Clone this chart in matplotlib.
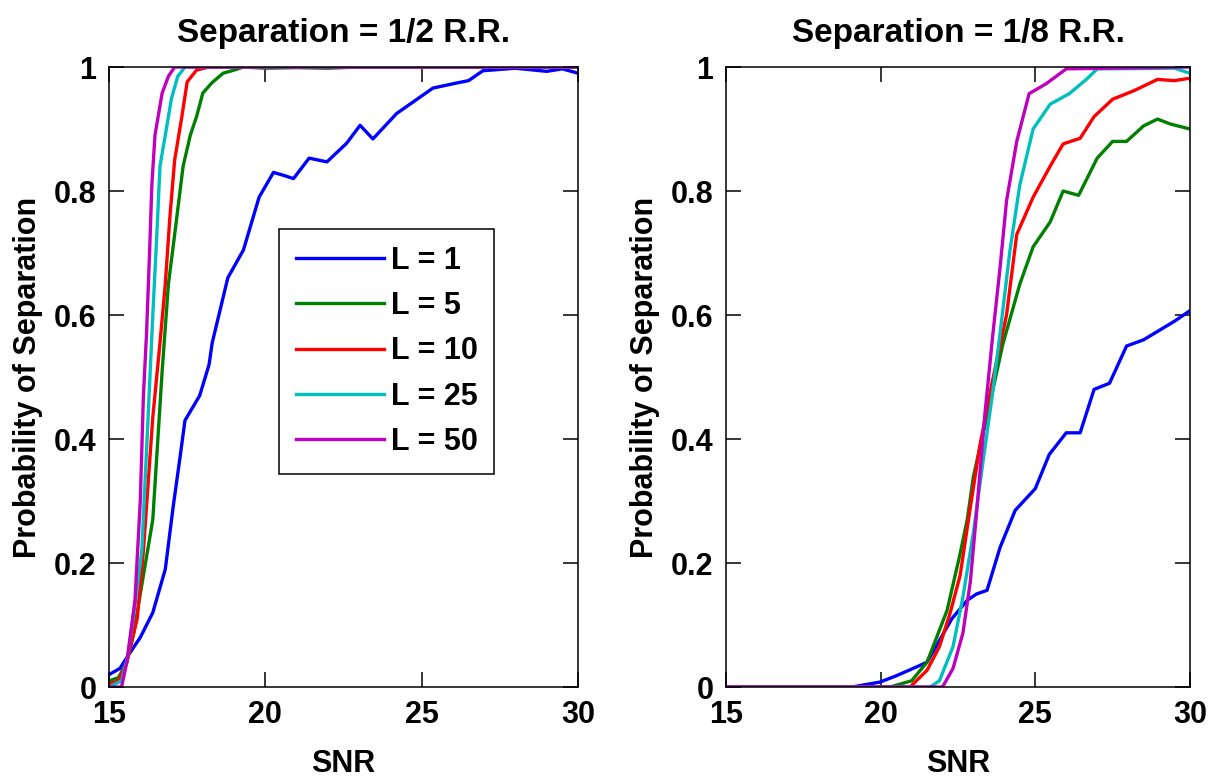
import matplotlib
matplotlib.use("Agg")
import matplotlib.pyplot as plt

# ---- data ----
labels = ["L = 1", "L = 5", "L = 10", "L = 25", "L = 50"]
colors = ["#0000ff", "#008000", "#ff0000", "#00bfbf", "#bf00bf"]
titles = ["Separation = 1/2 R.R.", "Separation = 1/8 R.R."]

# Separation = 1/2 R.R.
half_x1 = [15, 15.35, 15.6, 16.0, 16.4, 16.8, 17.05, 17.27, 17.43, 17.9, 18.2, 18.3,
           18.8, 19.3, 19.8, 20.26, 20.6, 20.9, 21.4, 21.97, 22.6, 23.03, 23.44, 24.2,
           25.36, 26.1, 26.5, 26.96, 28, 29, 29.5, 30]
half_y1 = [0.02, 0.03, 0.05, 0.08, 0.12, 0.19, 0.29, 0.37, 0.43, 0.47, 0.52, 0.555,
           0.66, 0.705, 0.79, 0.83, 0.825, 0.82, 0.853, 0.847, 0.877, 0.906, 0.884, 0.925,
           0.966, 0.974, 0.978, 0.994, 0.998, 0.993, 0.997, 0.99]
half_x5 = [15, 15.3, 15.57, 15.8, 16.1, 16.4, 16.7, 16.9, 17.1, 17.37, 17.6, 17.8, 18.0,
           18.3, 18.65, 19.0, 19.3, 20, 21, 22, 23, 30]
half_y5 = [0.01, 0.015, 0.04, 0.09, 0.18, 0.27, 0.51, 0.65, 0.73, 0.84, 0.89, 0.92, 0.958,
           0.975, 0.99, 0.995, 1.0, 0.998, 0.999, 0.998, 1.0, 1.0]
half_x10 = [15, 15.3, 15.57, 15.9, 16.1, 16.4, 16.63, 16.8, 16.95, 17.1, 17.33, 17.5, 17.8, 18.2, 30]
half_y10 = [0.005, 0.01, 0.04, 0.11, 0.22, 0.435, 0.555, 0.65, 0.76, 0.85, 0.92, 0.976, 0.995, 1.0, 1.0]
half_x25 = [15, 15.4, 15.6, 15.85, 16.05, 16.25, 16.4, 16.53, 16.63, 16.8, 17.0, 17.2, 17.43, 30]
half_y25 = [0.0, 0.01, 0.05, 0.14, 0.22, 0.435, 0.6, 0.73, 0.84, 0.89, 0.95, 0.985, 1.0, 1.0]
half_x50 = [15, 15.4, 15.57, 15.83, 16.0, 16.1, 16.2, 16.3, 16.37, 16.47, 16.7, 16.9, 17.1, 30]
half_y50 = [0.0, 0.0, 0.04, 0.14, 0.30, 0.47, 0.57, 0.705, 0.81, 0.89, 0.958, 0.985, 1.0, 1.0]

# Separation = 1/8 R.R.
eighth_x1 = [15, 19.07, 19.98, 20.5, 21.05, 21.5, 21.9, 22.3, 22.8, 23.1, 23.44, 23.86, 24.35,
             25.0, 25.45, 26.0, 26.45, 26.9, 27.4, 27.95, 28.5, 29.0, 29.5, 30]
eighth_y1 = [0, 0, 0.008, 0.018, 0.03, 0.04, 0.075, 0.11, 0.14, 0.15, 0.156, 0.225, 0.285,
             0.32, 0.375, 0.41, 0.41, 0.48, 0.49, 0.55, 0.56, 0.575, 0.59, 0.607]
eighth_x5 = [15, 20.3, 21.0, 21.5, 22.15, 22.57, 22.8, 23.0, 23.5, 23.95, 24.5, 24.93, 25.48,
             25.9, 26.4, 27.0, 27.5, 27.95, 28.5, 28.95, 29.37, 30]
eighth_y5 = [0, 0, 0.01, 0.04, 0.124, 0.215, 0.27, 0.34, 0.45, 0.553, 0.65, 0.71, 0.75,
             0.80, 0.793, 0.853, 0.88, 0.88, 0.905, 0.916, 0.908, 0.90]
eighth_x10 = [15, 20.95, 21.5, 21.9, 22.25, 22.57, 22.9, 23.2, 23.6, 24.07, 24.4, 24.93, 25.48,
              25.9, 26.45, 26.9, 27.5, 28.2, 28.95, 29.5, 30]
eighth_y10 = [0, 0, 0.027, 0.065, 0.12, 0.18, 0.29, 0.387, 0.49, 0.6, 0.73, 0.79, 0.84,
              0.876, 0.885, 0.92, 0.948, 0.962, 0.98, 0.978, 0.982]
eighth_x25 = [15, 21.6, 21.9, 22.34, 22.66, 23.0, 23.3, 23.6, 23.86, 24.18, 24.5, 24.93, 25.48,
              26.1, 26.65, 27.0, 29.5, 30]
eighth_y25 = [0, 0, 0.01, 0.065, 0.145, 0.25, 0.36, 0.467, 0.57, 0.704, 0.81, 0.9, 0.94,
              0.957, 0.98, 0.997, 0.998, 0.99]
eighth_x50 = [15, 22.0, 22.34, 22.66, 22.9, 23.1, 23.37, 23.63, 23.86, 24.07, 24.4, 24.8, 25.35, 26.0, 30]
eighth_y50 = [0, 0, 0.03, 0.087, 0.17, 0.28, 0.44, 0.57, 0.676, 0.784, 0.88, 0.957, 0.973, 0.997, 1.0]

xticks = [15, 20, 25, 30]
yticks = [0, 0.2, 0.4, 0.6, 0.8, 1]
yticklabels = ["0", "0.2", "0.4", "0.6", "0.8", "1"]

panels = [
    [(half_x1, half_y1), (half_x5, half_y5), (half_x10, half_y10),
     (half_x25, half_y25), (half_x50, half_y50)],
    [(eighth_x1, eighth_y1), (eighth_x5, eighth_y5), (eighth_x10, eighth_y10),
     (eighth_x25, eighth_y25), (eighth_x50, eighth_y50)],
]

# ---- style ----
plt.rcParams["font.family"] = ["Liberation Sans", "DejaVu Sans"]
plt.rcParams["font.weight"] = "bold"
FS = 22

fig = plt.figure(figsize=(12.14, 7.8), dpi=100)
axes = [fig.add_axes([0.0898, 0.1192, 0.3863, 0.7949]),
        fig.add_axes([0.598, 0.1192, 0.3822, 0.7949])]

for ax, series, title in zip(axes, panels, titles):
    for (xs, ys), c, lab in zip(series, colors, labels):
        ax.plot(xs, ys, color=c, lw=2.4, label=lab)
    ax.set_xlim(15, 30)
    ax.set_ylim(0, 1)
    ax.set_xticks(xticks)
    ax.set_xticklabels([str(t) for t in xticks])
    ax.set_yticks(yticks)
    ax.set_yticklabels(yticklabels)
    ax.tick_params(direction="in", length=11, width=1.1, top=True, right=True,
                   labelsize=FS, pad=9)
    for sp in ax.spines.values():
        sp.set_linewidth(1.1)
    ax.set_title(title, fontsize=24, fontweight="bold", pad=18)
    ax.set_xlabel("SNR", fontsize=FS, fontweight="bold", labelpad=14)
    ax.set_ylabel("Probability of Separation", fontsize=FS, fontweight="bold", labelpad=8)

leg = axes[0].legend(loc="upper left", bbox_to_anchor=(0.3625, 0.7387), fontsize=FS,
                     handlelength=2.9, handletextpad=0.2, labelspacing=0.5,
                     borderpad=0.55, borderaxespad=0, fancybox=False, framealpha=1)
leg.get_frame().set_edgecolor("black")
leg.get_frame().set_linewidth(1.1)

fig.savefig("out.png", dpi=100)
